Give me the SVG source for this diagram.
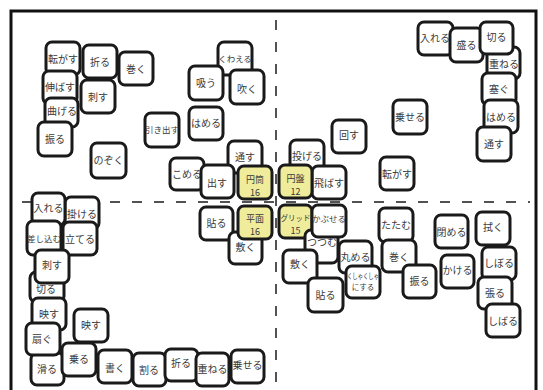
<svg xmlns="http://www.w3.org/2000/svg" width="543" height="390" viewBox="0 0 543 390">
<style>
.n{fill:#fff;stroke:#1a1a1a;stroke-width:3}
.y{fill:#efec9b;stroke:#1a1a1a;stroke-width:3}
.t{font-family:"Noto Sans CJK JP","Noto Sans",sans-serif;font-size:10px;fill:#3a3a3a;text-anchor:middle}
.f{font-size:8.5px}
.s{font-size:7.5px}
.m{font-size:9px}
.d{stroke:#1a1a1a;stroke-width:1.5;stroke-dasharray:10 12;fill:none}
</style>
<rect x="0" y="0" width="543" height="390" fill="#fff"/>
<rect x="11" y="11" width="525" height="385" fill="#fff" stroke="#111" stroke-width="3"/>
<g id="axes">
<line class="d" x1="276" y1="20" x2="276" y2="390"/>
<line class="d" x1="22" y1="202" x2="530" y2="202"/>
</g>
<g id="connectors"></g>
<!-- top-left -->
<g id="n1" transform="translate(46,42)"><rect class="n" width="34" height="33" rx="6"/><text class="t" x="17" y="21">転がす</text></g>
<g id="n2" transform="translate(83,45)"><rect class="n" width="34" height="33" rx="6"/><text class="t" x="17" y="21">折る</text></g>
<g id="n3" transform="translate(119,52)"><rect class="n" width="34" height="33" rx="6"/><text class="t" x="17" y="21">巻く</text></g>
<g id="n4" transform="translate(43,71)"><rect class="n" width="34" height="33" rx="6"/><text class="t" x="17" y="20">伸ばす</text></g>
<g id="n5" transform="translate(81,80)"><rect class="n" width="34" height="33" rx="6"/><text class="t" x="17" y="21">刺す</text></g>
<g id="n6" transform="translate(45,98)"><rect class="n" width="33" height="29" rx="6"/><text class="t" x="17" y="17">曲げる</text></g>
<g id="n7" transform="translate(38,122)"><rect class="n" width="34" height="34" rx="6"/><text class="t" x="17" y="21">振る</text></g>
<g id="n8" transform="translate(91,143)"><rect class="n" width="35" height="35" rx="6"/><text class="t" x="17.5" y="21">のぞく</text></g>
<g id="n9" transform="translate(218,42)"><rect class="n" width="34" height="33" rx="6"/><text class="t f" x="17" y="20">くわえる</text></g>
<g id="n10" transform="translate(189,66)"><rect class="n" width="34" height="34" rx="6"/><text class="t" x="17" y="21">吸う</text></g>
<g id="n11" transform="translate(230,70)"><rect class="n" width="34" height="34" rx="6"/><text class="t" x="17" y="23">吹く</text></g>
<g id="n12" transform="translate(189,107)"><rect class="n" width="34" height="33" rx="6"/><text class="t" x="17" y="20">はめる</text></g>
<g id="n13" transform="translate(145,113)"><rect class="n" width="34" height="34" rx="6"/><text class="t f" x="17" y="20">引き出す</text></g>
<g id="n14" transform="translate(228,141)"><rect class="n" width="34" height="32" rx="6"/><text class="t" x="17" y="20">通す</text></g>
<g id="n15" transform="translate(170,158)"><rect class="n" width="34" height="32" rx="6"/><text class="t" x="17" y="20">こめる</text></g>
<g id="n16" transform="translate(201,165)"><rect class="n" width="33" height="33" rx="6"/><text class="t" x="16" y="22">出す</text></g>
<g id="n17" transform="translate(238,166)"><rect class="y" width="34" height="33" rx="6"/><text class="t m" x="17" y="17">円筒</text><text class="t m" x="17" y="30">16</text></g>
<!-- top-right -->
<g id="n18" transform="translate(290,140)"><rect class="n" width="34" height="32" rx="6"/><text class="t" x="17" y="20">投げる</text></g>
<g id="n19" transform="translate(312,166)"><rect class="n" width="34" height="33" rx="6"/><text class="t" x="17" y="21">飛ばす</text></g>
<g id="n20" transform="translate(279,165)"><rect class="y" width="33" height="33" rx="6"/><text class="t m" x="16.5" y="17">円盤</text><text class="t m" x="16.5" y="30">12</text></g>
<g id="n21" transform="translate(332,120)"><rect class="n" width="34" height="33" rx="6"/><text class="t" x="17" y="19">回す</text></g>
<g id="n22" transform="translate(380,157)"><rect class="n" width="34" height="33" rx="6"/><text class="t" x="17" y="21">転がす</text></g>
<g id="n23" transform="translate(393,100)"><rect class="n" width="34" height="34" rx="6"/><text class="t" x="17" y="21">乗せる</text></g>
<g id="n24" transform="translate(418,22)"><rect class="n" width="35" height="33" rx="6"/><text class="t" x="17" y="20">入れる</text></g>
<g id="n25" transform="translate(450,28)"><rect class="n" width="33" height="34" rx="6"/><text class="t" x="16.5" y="21">盛る</text></g>
<g id="n26" transform="translate(487,47)"><rect class="n" width="33" height="32" rx="6"/><text class="t" x="17" y="21">重ねる</text></g>
<g id="n27" transform="translate(480,22)"><rect class="n" width="33" height="32" rx="6"/><text class="t" x="16.5" y="19">切る</text></g>
<g id="n28" transform="translate(482,73)"><rect class="n" width="34" height="32" rx="6"/><text class="t" x="17" y="20">塞ぐ</text></g>
<g id="n29" transform="translate(484,100)"><rect class="n" width="34" height="33" rx="6"/><text class="t" x="17" y="21">はめる</text></g>
<g id="n30" transform="translate(477,127)"><rect class="n" width="34" height="34" rx="6"/><text class="t" x="17" y="21">通す</text></g>
<!-- bottom-left -->
<g id="n31" transform="translate(65,197)"><rect class="n" width="34" height="32" rx="6"/><text class="t" x="17" y="21">掛ける</text></g>
<g id="n32" transform="translate(32,193)"><rect class="n" width="33" height="32" rx="6"/><text class="t" x="16.5" y="19">入れる</text></g>
<g id="n33" transform="translate(27,221)"><rect class="n" width="34" height="34" rx="6"/><text class="t f" x="17" y="21">差し込む</text></g>
<g id="n34" transform="translate(63,222)"><rect class="n" width="34" height="33" rx="6"/><text class="t" x="17" y="21">立てる</text></g>
<g id="n35" transform="translate(30,272)"><rect class="n" width="34" height="30" rx="6"/><text class="t" x="16" y="21">切る</text></g>
<g id="n36" transform="translate(35,250)"><rect class="n" width="34" height="33" rx="6"/><text class="t" x="17" y="19">刺す</text></g>
<g id="n37" transform="translate(32,298)"><rect class="n" width="34" height="32" rx="6"/><text class="t" x="17" y="20">映す</text></g>
<g id="n38" transform="translate(74,309)"><rect class="n" width="34" height="33" rx="6"/><text class="t" x="17" y="20">映す</text></g>
<g id="n39" transform="translate(31,353)"><rect class="n" width="33" height="32" rx="6"/><text class="t" x="16" y="20">滑る</text></g>
<g id="n40" transform="translate(26,323)"><rect class="n" width="34" height="32" rx="6"/><text class="t" x="16" y="20">扇ぐ</text></g>
<g id="n41" transform="translate(62,343)"><rect class="n" width="34" height="33" rx="6"/><text class="t" x="17" y="20">乗る</text></g>
<g id="n42" transform="translate(98,350)"><rect class="n" width="34" height="33" rx="6"/><text class="t" x="17" y="22">書く</text></g>
<g id="n43" transform="translate(133,353)"><rect class="n" width="33" height="33" rx="6"/><text class="t" x="16" y="21">割る</text></g>
<g id="n44" transform="translate(165,349)"><rect class="n" width="33" height="32" rx="6"/><text class="t" x="16" y="18">折る</text></g>
<g id="n45" transform="translate(196,353)"><rect class="n" width="33" height="33" rx="6"/><text class="t" x="16.5" y="20">重ねる</text></g>
<g id="n46" transform="translate(231,350)"><rect class="n" width="33" height="33" rx="6"/><text class="t" x="16.5" y="19">乗せる</text></g>
<g id="n47" transform="translate(200,207)"><rect class="n" width="33" height="33" rx="6"/><text class="t" x="16.5" y="20">貼る</text></g>
<g id="n48" transform="translate(229,232)"><rect class="n" width="33" height="32" rx="6"/><text class="t" x="16.5" y="19">敷く</text></g>
<g id="n49" transform="translate(238,206)"><rect class="y" width="34" height="33" rx="6"/><text class="t m" x="17" y="16">平面</text><text class="t m" x="17" y="29">16</text></g>
<!-- bottom-right -->
<g id="n50" transform="translate(279,205)"><rect class="y" width="33" height="33" rx="6"/><text class="t s" x="16.5" y="16">グリッド</text><text class="t m" x="16.5" y="29">15</text></g>
<g id="n51" transform="translate(305,230)"><rect class="n" width="33" height="33" rx="6"/><text class="t" x="17" y="16">つつむ</text></g>
<g id="n52" transform="translate(312,205)"><rect class="n" width="34" height="32" rx="6"/><text class="t f" x="17" y="17">かぶせる</text></g>
<g id="n53" transform="translate(283,250)"><rect class="n" width="34" height="33" rx="6"/><text class="t" x="17" y="18">敷く</text></g>
<g id="n54" transform="translate(339,241)"><rect class="n" width="33" height="32" rx="6"/><text class="t" x="16.5" y="20">丸める</text></g>
<g id="n55" transform="translate(308,278)"><rect class="n" width="35" height="34" rx="6"/><text class="t" x="17.5" y="21">貼る</text></g>
<g id="n56" transform="translate(346,266)"><rect class="n" width="34" height="32" rx="6"/><text class="t s" x="17" y="13" textLength="32" lengthAdjust="spacingAndGlyphs">くしゃくしゃ</text><text class="t s" x="17" y="24">にする</text></g>
<g id="n57" transform="translate(379,208)"><rect class="n" width="34" height="34" rx="6"/><text class="t" x="17" y="21">たたむ</text></g>
<g id="n58" transform="translate(382,240)"><rect class="n" width="34" height="32" rx="6"/><text class="t" x="17" y="21">巻く</text></g>
<g id="n59" transform="translate(403,265)"><rect class="n" width="33" height="33" rx="6"/><text class="t" x="16.5" y="20">振る</text></g>
<g id="n60" transform="translate(435,215)"><rect class="n" width="33" height="33" rx="6"/><text class="t" x="16.5" y="21">閉める</text></g>
<g id="n61" transform="translate(476,212)"><rect class="n" width="34" height="33" rx="6"/><text class="t" x="17" y="19">拭く</text></g>
<g id="n62" transform="translate(441,255)"><rect class="n" width="33" height="33" rx="6"/><text class="t" x="16.5" y="19">かける</text></g>
<g id="n63" transform="translate(482,247)"><rect class="n" width="34" height="33" rx="6"/><text class="t" x="17" y="20">しぼる</text></g>
<g id="n64" transform="translate(478,277)"><rect class="n" width="34" height="32" rx="6"/><text class="t" x="17" y="20">張る</text></g>
<g id="n65" transform="translate(486,304)"><rect class="n" width="34" height="33" rx="6"/><text class="t" x="17" y="21">しばる</text></g>
</svg>
